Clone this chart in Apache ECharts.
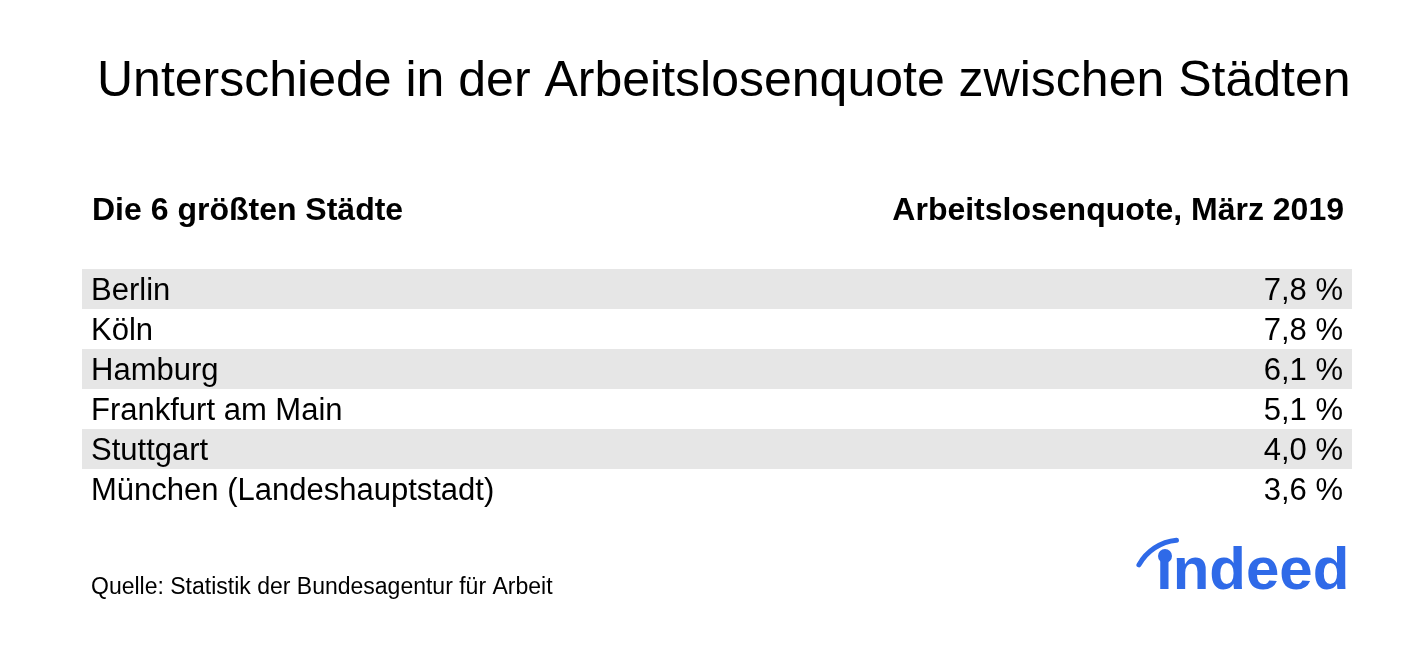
<!DOCTYPE html>
<html><head><meta charset="utf-8">
<script src="https://cdn.jsdelivr.net/npm/echarts@6/dist/echarts.min.js"></script>
<style>html,body{margin:0;padding:0;background:#fff}#c{width:1424px;height:670px}</style>
</head><body><div id="c"></div>
<script>
const title = 'Unterschiede in der Arbeitslosenquote zwischen Städten';
const colHeadLeft = 'Die 6 größten Städte';
const colHeadRight = 'Arbeitslosenquote, März 2019';
const cities = ['Berlin','Köln','Hamburg','Frankfurt am Main','Stuttgart','München (Landeshauptstadt)'];
const rates = [7.8, 7.8, 6.1, 5.1, 4.0, 3.6];
const source = 'Quelle: Statistik der Bundesagentur für Arbeit';
const F = '"Liberation Sans", Arial, sans-serif';
const chart = echarts.init(document.getElementById('c'));
chart.setOption({
  backgroundColor:'#fff',
  animation:false,
  title:{text:title,left:92,top:52,textStyle:{fontFamily:F,fontSize:50,fontWeight:'normal',color:'#000'}},
  grid:{left:82,right:72,top:269,height:240},
  xAxis:{type:'value',min:0,max:1,show:false},
  yAxis:{type:'category',data:cities,inverse:true,show:false},
  series:[{
    type:'custom',
    data:cities.map((c,i)=>[i,c,rates[i]]),
    encode:{y:0},
    renderItem:function(params,api){
      const i=api.value(0);
      const y=api.coord([0,i])[1];
      const h=api.size([0,1])[1];
      const cs=params.coordSys;
      const children=[];
      if(i%2===0) children.push({type:'rect',shape:{x:cs.x,y:y-h/2,width:cs.width,height:h},style:{fill:'#e6e6e6'}});
      children.push({type:'text',style:{text:cities[i],x:cs.x+9,y:y+2,textVerticalAlign:'middle',font:'31px '+F,fill:'#000'}});
      children.push({type:'text',style:{text:rates[i].toFixed(1).replace('.',',')+' %',x:cs.x+cs.width-9,y:y+2,textAlign:'right',textVerticalAlign:'middle',font:'31px '+F,fill:'#000'}});
      return {type:'group',children:children};
    }
  }],
  graphic:[
    {type:'text',left:92,top:195,style:{text:colHeadLeft,font:'bold 32px '+F,fill:'#000'}},
    {type:'text',right:80,top:195,style:{text:colHeadRight,font:'bold 32px '+F,fill:'#000'}},
    {type:'text',left:91,top:576,style:{text:source,font:'23px '+F,fill:'#000'}},
    {type:'text',left:1156,top:542,style:{text:'ındeed',font:'bold 60px '+F,fill:'#2f6ae8'}},
    {type:'circle',shape:{cx:1165,cy:556,r:7},style:{fill:'#2f6ae8'}},
    {type:'arc',shape:{cx:1181,cy:588,r:48,startAngle:Math.PI*1.16,endAngle:Math.PI*1.47},style:{stroke:'#2f6ae8',lineWidth:5,fill:null,lineCap:'round'}}
  ]
});
</script></body></html>
